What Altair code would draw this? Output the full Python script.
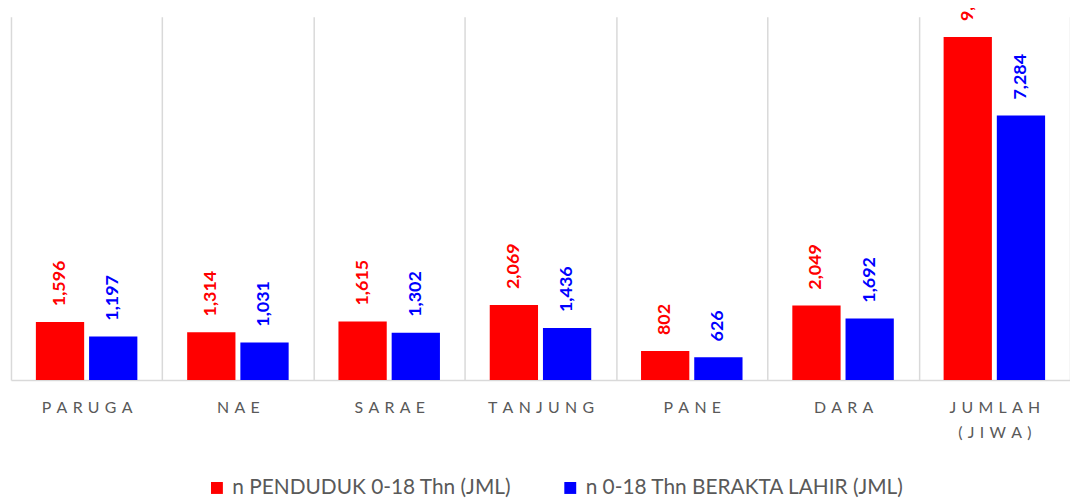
import json
import altair as alt
import pandas as pd

categories = ["PARUGA", "NAE", "SARAE", "TANJUNG", "PANE", "DARA", "JUMLAH (JIWA)"]
series_names = ["n PENDUDUK 0-18 Thn (JML)", "n 0-18 Thn BERAKTA LAHIR (JML)"]
penduduk = [1596, 1314, 1615, 2069, 802, 2049, 9445]
berakta = [1197, 1031, 1302, 1436, 626, 1692, 7284]
colors = ["#FF0000", "#0000FF"]

rows = []
for c, a, b in zip(categories, penduduk, berakta):
    rows.append({"cat": c, "series": series_names[0], "value": a})
    rows.append({"cat": c, "series": series_names[1], "value": b})
df = pd.DataFrame(rows)

SP = "\u2004"

def spaced(s):
    return SP.join(list(s))

expr = "datum.label"
for c in reversed(categories):
    if " " in c:
        parts = c.split(" ")
        lab = "[" + ",".join(json.dumps(spaced(p)) for p in parts) + "]"
    else:
        lab = json.dumps(spaced(c))
    expr = f"datum.label == {json.dumps(c)} ? {lab} : ({expr})"

FONT = "Lato"

x = alt.X("cat:N", sort=categories, title=None,
          scale=alt.Scale(paddingInner=0, paddingOuter=0),
          axis=alt.Axis(labelAngle=0, labelExpr=expr, tickBand="extent", grid=True,
                        gridColor="#d9d9d9", gridWidth=1.5, ticks=False,
                        domainColor="#d9d9d9", domainWidth=1.5,
                        labelColor="#595959", labelFont=FONT, labelFontSize=16,
                        labelPadding=20, labelLineHeight=25))
xo = alt.XOffset("series:N", sort=series_names,
                 scale=alt.Scale(paddingInner=0.0926, paddingOuter=0.468))
y = alt.Y("value:Q", axis=None, scale=alt.Scale(domain=[0, 10000]))
color = alt.Color("series:N", sort=series_names,
                  scale=alt.Scale(domain=series_names, range=colors),
                  legend=alt.Legend(title=None, orient="none", direction="horizontal",
                                    legendX=197, legendY=464,
                                    symbolType="square", symbolSize=144,
                                    symbolStrokeWidth=0, symbolOpacity=1,
                                    labelFont=FONT, labelFontSize=21, labelLimit=500,
                                    labelColor="#595959", columnPadding=48,
                                    labelOffset=5))

bars = alt.Chart(df).mark_bar(opacity=1).encode(x=x, xOffset=xo, y=y, color=color)

labels = alt.Chart(df).mark_text(angle=270, align="left", baseline="middle",
                                 dx=16, font=FONT, fontSize=18, fontWeight="bold").encode(
    x=x, xOffset=xo, y=y,
    text=alt.Text("value:Q", format=","),
    color=alt.Color("series:N", sort=series_names,
                    scale=alt.Scale(domain=series_names, range=colors), legend=None),
)

chart = (bars + labels).properties(
    width=1067, height=366,
    autosize=alt.AutoSizeParams(type="none"),
    padding={"left": 3, "top": 7, "right": 0, "bottom": 117},
).configure_view(stroke=None)

chart.save("out.html", embed_options={"renderer": "svg", "actions": False})
